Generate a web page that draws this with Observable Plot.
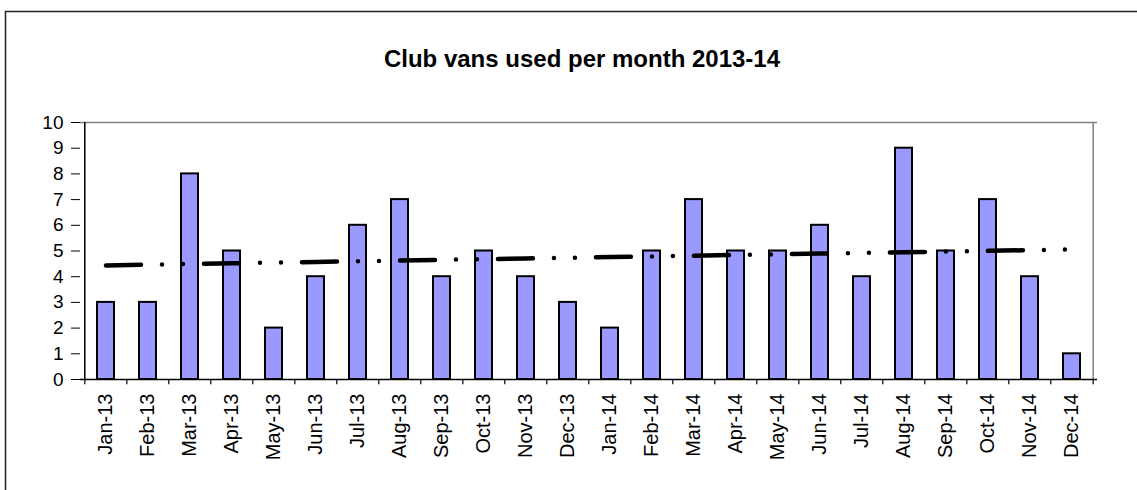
<!DOCTYPE html>
<html>
<head>
<meta charset="utf-8">
<script src="https://cdn.jsdelivr.net/npm/d3@7"></script>
<script src="https://cdn.jsdelivr.net/npm/@observablehq/plot@0.6"></script>
<style>
  html, body { margin: 0; padding: 0; background: #fff; }
  svg { display: block; font-family: "Liberation Sans", Arial, sans-serif; }
</style>
</head>
<body>
<div id="chart"></div>
<script>
const title = "Club vans used per month 2013-14";
const months = ["Jan-13","Feb-13","Mar-13","Apr-13","May-13","Jun-13","Jul-13","Aug-13","Sep-13","Oct-13","Nov-13","Dec-13",
                "Jan-14","Feb-14","Mar-14","Apr-14","May-14","Jun-14","Jul-14","Aug-14","Sep-14","Oct-14","Nov-14","Dec-14"];
const vans = [3,3,8,5,2,4,6,7,4,5,4,3, 2,5,7,5,5,6,4,9,5,7,4,1];
const yTicks = [0,1,2,3,4,5,6,7,8,9,10];

const W = 1137, H = 490;
const mL = 80, mR = 40, mT = 122, mB = 111;
const step = (W - mL - mR) / months.length;

const data = months.map((m, i) => ({month: m, value: vans[i]}));

// linear trendline (least squares) over the data
const n = vans.length;
const mx = d3.mean(d3.range(n)), my = d3.mean(vans);
const slope = d3.sum(d3.range(n), i => (i - mx) * (vans[i] - my)) / d3.sum(d3.range(n), i => (i - mx) ** 2);
const trend = months.map((m, i) => ({month: m, value: my + slope * (i - mx)}));

const chart = Plot.plot({
  width: W, height: H,
  marginLeft: mL, marginRight: mR, marginTop: mT, marginBottom: mB,
  style: {fontFamily: '"Liberation Sans", Arial, sans-serif', background: "#fff", color: "#000"},
  x: {domain: months, type: "band", paddingInner: 0.6, paddingOuter: 0.3},
  y: {domain: [0, 10]},
  marks: [
    // plot area border (grey top/right)
    Plot.ruleY([10], {stroke: "#808080", strokeWidth: 1.5}),
    Plot.ruleX([months[months.length - 1]], {dx: step / 2, y1: 0, y2: 10, stroke: "#808080", strokeWidth: 1.5}),
    // bars
    Plot.barY(data, {x: "month", y: "value", fill: "#9999FF", stroke: "#000", strokeWidth: 2}),
    // trendline
    Plot.lineY(trend, {x: "month", y: "value", stroke: "#000", strokeWidth: 4.5, strokeLinecap: "round",
      strokeDasharray: "35,21,0,21,0,21"}),
    // axis lines
    Plot.ruleY([0], {stroke: "#000", strokeWidth: 1.5}),
    Plot.ruleX([months[0]], {dx: -step / 2, y1: 0, y2: 10, stroke: "#000", strokeWidth: 1.5}),
    // x ticks at category boundaries
    Plot.ruleX(months, {x: d => d, dx: -step / 2, y1: 0, y2: -0.2, stroke: "#000", strokeWidth: 1.2}),
    Plot.ruleX([months[months.length - 1]], {dx: step / 2, y1: 0, y2: -0.2, stroke: "#000", strokeWidth: 1.2}),
    Plot.axisY({ticks: yTicks, tickSize: 9, tickPadding: 8, fontSize: 19, label: null, stroke: "#000"}),
    Plot.axisX({tickRotate: -90, tickSize: 0, tickPadding: 14, fontSize: 20, label: null}),
    // title
    Plot.text([title], {frameAnchor: "top", dy: -73, dx: -7, fontSize: 24, fontWeight: "bold", fill: "#000"})
  ]
});

// outer chart-area border (left and top edges visible)
d3.select(chart).append("path")
  .attr("d", `M5.5,${H} V11.5 H${W}`)
  .attr("fill", "none").attr("stroke", "#222").attr("stroke-width", 1.5);

document.getElementById("chart").appendChild(chart);
</script>
</body>
</html>
